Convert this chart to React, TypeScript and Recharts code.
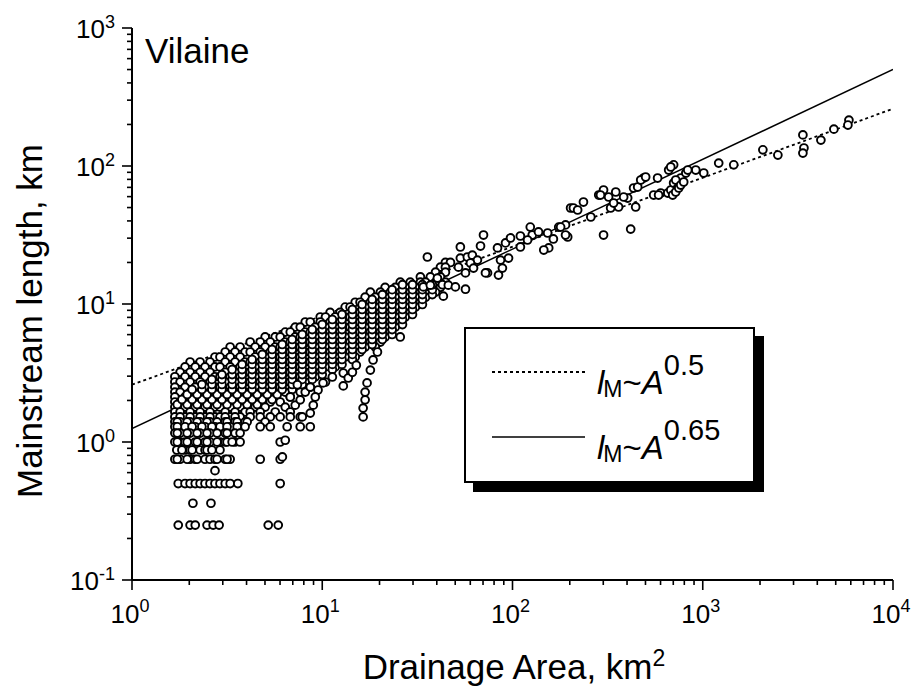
import React from 'react';
import { ScatterChart, Scatter, XAxis, YAxis, Legend, Customized } from 'recharts';

// ---------- axis ticks ----------
const xTicks = [1, 2, 3, 4, 5, 6, 7, 8, 9, 10, 20, 30, 40, 50, 60, 70, 80, 90, 100, 200, 300, 400, 500, 600, 700, 800, 900, 1000, 2000, 3000, 4000, 5000, 6000, 7000, 8000, 9000, 10000];
const yTicks = [0.1, 0.2, 0.3, 0.4, 0.5, 0.6, 0.7, 0.8, 0.9, 1, 2, 3, 4, 5, 6, 7, 8, 9, 10, 20, 30, 40, 50, 60, 70, 80, 90, 100, 200, 300, 400, 500, 600, 700, 800, 900, 1000];

// ---------- data: dense cloud, one row per mainstream length (km) with drainage areas (km2) ----------
const cloudRows: [number, number[]][] = [
  [20.0, [44.4, 47.2]],
  [18.5, [41.8, 44.4]],
  [17.0, [39.4, 44.4]],
  [15.7, [32.8, 37.0, 41.8]],
  [14.4, [25.7, 29.0, 32.8, 34.9, 39.4, 44.4]],
  [13.2, [21.4, 24.2, 27.3, 30.9, 37.0, 41.8]],
  [12.2, [17.9, 20.2, 22.8, 25.7, 29.0, 32.8, 39.4]],
  [11.2, [16.8, 19.0, 21.4, 24.2, 27.3, 30.9, 34.9]],
  [10.3, [14.9, 15.8, 17.9, 20.2, 22.8, 25.7, 29.0, 32.8]],
  [9.5, [13.2, 14.0, 16.8, 19.0, 21.4, 24.2, 27.3, 30.9]],
  [8.7, [11.0, 12.4, 14.9, 15.8, 17.9, 20.2, 22.8, 25.7, 29.0]],
  [8.05, [9.76, 10.4, 11.7, 13.2, 14.0, 16.8, 19.0, 21.4, 24.2, 27.3]],
  [7.4, [8.14, 8.65, 9.76, 11.0, 12.4, 14.9, 15.8, 17.9, 20.2, 22.8, 25.7]],
  [6.8, [7.21, 7.66, 9.19, 10.4, 11.7, 13.2, 14.0, 16.8, 19.0, 21.4, 24.2]],
  [6.26, [6.39, 6.79, 8.14, 8.65, 9.76, 11.0, 12.4, 14.9, 15.8, 17.9, 20.2, 22.8]],
  [5.77, [5.01, 5.66, 6.01, 7.21, 7.66, 9.19, 10.4, 11.7, 13.2, 16.8, 19.0, 21.4, 25.7]],
  [5.3, [4.18, 4.72, 5.33, 6.39, 6.79, 8.14, 8.65, 9.76, 11.0, 12.4, 14.0, 15.8, 17.9, 20.2]],
  [4.88, [3.28, 3.70, 4.44, 5.01, 5.66, 6.01, 7.21, 7.66, 9.19, 10.4, 11.7, 13.2, 14.9, 16.8, 19.0]],
  [4.49, [3.09, 3.48, 3.93, 4.18, 4.72, 5.33, 6.39, 6.79, 8.14, 8.65, 9.76, 11.0, 12.4, 14.0, 15.8]],
  [4.13, [2.73, 2.90, 3.28, 3.70, 4.44, 5.01, 5.66, 6.01, 7.21, 7.66, 9.19, 10.4, 11.7, 13.2, 14.9]],
  [3.8, [2.02, 2.28, 2.57, 3.09, 3.48, 3.93, 4.18, 4.72, 5.33, 6.39, 6.79, 8.14, 8.65, 9.76, 11.0, 12.4]],
  [3.5, [1.90, 2.15, 2.42, 2.73, 2.90, 3.28, 3.70, 4.44, 5.01, 5.66, 6.01, 7.21, 7.66, 9.19, 10.4, 11.7]],
  [3.2, [1.79, 2.02, 2.28, 2.57, 3.09, 3.48, 3.93, 4.18, 4.72, 5.33, 6.39, 6.79, 8.14, 8.65, 9.76]],
  [2.97, [1.68, 1.90, 2.15, 2.42, 2.73, 2.90, 3.28, 3.70, 4.44, 5.01, 5.66, 6.01, 7.21, 7.66, 9.19]],
  [2.72, [1.68, 1.79, 2.02, 2.28, 2.57, 3.09, 3.48, 3.93, 4.18, 4.72, 5.33, 6.39, 6.79, 8.14, 10.4]],
  [2.5, [1.68, 1.90, 2.15, 2.42, 2.73, 2.90, 3.28, 3.70, 4.44, 5.01, 5.66, 6.01, 7.21, 8.65]],
  [2.3, [1.68, 1.79, 2.02, 2.28, 2.57, 3.09, 3.48, 3.93, 4.18, 4.72, 5.33, 6.39, 7.66]],
  [2.12, [1.68, 1.90, 2.15, 2.42, 2.73, 2.90, 3.28, 3.70, 4.44, 5.01, 5.66, 6.79]],
  [1.95, [1.68, 1.79, 2.02, 2.28, 2.57, 3.09, 3.48, 3.93, 4.18, 4.72, 5.33, 6.01]],
  [1.79, [1.68, 1.90, 2.15, 2.42, 2.73, 2.90, 3.28, 3.70, 4.44, 5.01, 6.39]],
  [1.65, [1.68, 1.79, 2.02, 2.28, 2.57, 3.09, 3.48, 3.93, 4.18, 4.72, 5.66, 6.79]],
  [1.52, [1.68, 1.90, 2.15, 2.42, 2.73, 2.90, 3.28, 3.70, 4.18, 4.72, 5.33, 6.01, 6.79, 7.66]],
  [1.52, [1.79, 2.02, 2.28, 2.57, 3.09, 3.48]],
  [1.4, [1.68, 1.79, 2.02, 2.28, 2.57, 3.09, 3.48, 3.93, 5.01]],
  [1.4, [1.73, 1.95, 2.20, 2.48, 2.80, 3.16, 3.57, 4.03]],
  [1.29, [1.68, 1.90, 2.15, 2.42, 2.73, 2.90, 3.28, 3.70, 3.93, 4.72, 5.33, 6.54, 7.66, 8.65]],
  [1.29, [1.73, 2.07, 2.33, 2.63, 3.16, 3.57]],
  [1.16, [1.68, 1.79, 2.02, 2.28, 2.57, 3.09, 3.48, 3.70]],
  [1.16, [1.73, 1.95, 2.20, 2.48, 2.80, 3.16]],
  [1.0, [1.68, 1.79, 1.90, 2.15, 2.42, 2.57, 2.90, 3.09, 3.48, 3.70, 6.01]],
  [1.0, [1.73, 1.95, 2.20, 2.48, 2.80, 3.16, 3.36]],
  [0.875, [1.72, 1.90, 2.02, 2.28, 2.42, 2.90]],
  [0.875, [1.83, 2.07, 2.48, 2.63]],
  [0.75, [1.68, 1.79, 2.02, 2.15, 2.42, 2.57, 2.73, 3.09, 3.28, 4.72, 6.01]],
  [0.75, [1.73, 1.95, 2.20, 2.80, 3.16]],
  [0.62, [2.73]],
  [0.5, [1.75, 1.90, 2.02, 2.15, 2.28, 2.42, 2.57, 2.73, 2.90, 3.09, 3.28, 3.60, 6.01]],
  [0.36, [2.09, 2.60]],
  [0.25, [1.75, 2.02, 2.15, 2.48, 2.67, 2.87, 5.20, 5.87]],
  // core of the cloud (between the rows above)
  [1.87, [1.73, 1.95, 2.20, 2.48, 2.80, 3.16, 3.57, 4.03, 4.55]],
  [2.03, [1.83, 2.07, 2.33, 2.63, 2.97, 3.36, 3.79, 4.28, 4.84, 5.45]],
  [2.21, [1.95, 2.20, 2.48, 2.80, 3.16, 3.57, 4.03, 4.55, 5.14, 5.80]],
  [2.40, [2.07, 2.33, 2.63, 2.97, 3.36, 3.79, 4.28, 4.84, 5.45, 6.16, 6.95]],
  [2.61, [2.33, 2.63, 2.97, 3.36, 3.79, 4.28, 4.84, 5.45, 6.16, 6.95, 7.85]],
  [2.84, [2.63, 2.97, 3.36, 3.79, 4.28, 4.84, 5.45, 6.16, 6.95, 7.85, 8.86]],
  [3.08, [2.97, 3.36, 3.79, 4.28, 4.84, 5.45, 6.16, 6.95, 7.85, 8.86, 10.0]],
  [3.35, [3.36, 3.79, 4.28, 4.84, 5.45, 6.16, 6.95, 7.85, 8.86, 10.0, 11.3]],
  [3.65, [3.79, 4.28, 4.84, 5.45, 6.16, 6.95, 7.85, 8.86, 10.0, 11.3, 12.7]],
  [3.96, [4.28, 4.84, 5.45, 6.16, 6.95, 7.85, 8.86, 10.0, 11.3, 12.7, 14.4]],
  [4.31, [4.84, 5.45, 6.16, 6.95, 7.85, 8.86, 10.0, 11.3, 12.7, 14.4]],
  [4.68, [5.45, 6.16, 6.95, 7.85, 8.86, 10.0, 11.3, 12.7, 14.4, 16.2]],
  [5.09, [6.16, 6.95, 7.85, 8.86, 10.0, 11.3, 12.7, 14.4, 16.2, 18.3]],
  [5.53, [6.95, 7.85, 8.86, 10.0, 11.3, 12.7, 14.4, 16.2, 18.3, 20.7]],
  [6.01, [7.85, 8.86, 10.0, 11.3, 12.7, 14.4, 16.2, 18.3, 20.7, 23.3]],
  [6.53, [8.86, 10.0, 11.3, 12.7, 14.4, 16.2, 18.3, 20.7, 23.3]],
  [7.10, [10.0, 11.3, 12.7, 14.4, 16.2, 18.3, 20.7, 23.3, 26.4]],
  [7.72, [11.3, 12.7, 14.4, 16.2, 18.3, 20.7, 23.3, 26.4]],
  [8.39, [12.7, 14.4, 16.2, 18.3, 20.7, 23.3, 26.4, 29.8]],
  [9.12, [14.4, 16.2, 18.3, 20.7, 23.3, 26.4, 29.8]],
  [9.92, [16.2, 18.3, 20.7, 23.3, 26.4, 29.8, 33.6]],
  [10.8, [18.3, 20.7, 23.3, 26.4, 29.8, 33.6]],
  [11.7, [20.7, 23.3, 26.4, 29.8, 33.6, 37.9]],
  [12.7, [23.3, 26.4, 29.8, 33.6, 37.9]],
  [13.8, [26.4, 29.8, 33.6, 37.9, 42.8]],
];

// descending tails of points below the main cloud [area, length]
const tailPoints: [number, number][] = [
  [19.5, 4.49], [18.5, 3.93], [17.9, 3.32], [17.2, 2.68], [16.8, 2.30], [16.8, 2.02], [16.4, 1.76], [16.4, 1.52],
  [10.1, 2.68], [9.5, 2.38], [9.19, 2.12], [8.97, 1.85], [8.65, 1.62], [7.85, 1.52], [6.39, 1.03], [6.17, 0.78],
  [11.3, 2.96], [12.9, 3.16], [13.7, 2.91], [12.9, 2.55], [14.4, 3.2], [15.1, 3.6],
  [7.21, 1.85], [6.79, 2.12], [7.66, 2.02], [8.14, 2.3], [7.4, 2.6], [8.65, 2.5],
];

// larger basins [area, length]
const upperPoints: [number, number][] = [
  [35.7, 21.9], [52.0, 18.5], [53.2, 21.5], [57.9, 21.9], [61.5, 22.6], [65.4, 20.8], [60.1, 19.8], [62.4, 18.2],
  [56.6, 16.8], [73.9, 16.8], [84.4, 16.2], [86.5, 20.8], [95.3, 21.5], [83.4, 25.5], [67.9, 26.3], [70.4, 31.6],
  [53.2, 25.9], [91.9, 27.7], [97.6, 30.1], [110, 31.1], [110, 25.9], [124, 36.1], [127, 31.6], [120, 29.1],
  [137, 33.3], [153, 32.7], [164, 29.6], [155, 25.5], [146, 24.6], [175, 36.1], [190, 37.4], [195, 30.6],
  [202, 49.6], [34.0, 13.3], [37.0, 13.7], [40.3, 15.4], [46.0, 13.7], [50.1, 13.3], [56.6, 12.8], [43.3, 11.4],
  [88.5, 18.2], [72.1, 16.8], [179, 36.1], [190, 31.6], [209, 49.6], [220, 48.0], [236, 54.8], [258, 42.7],
  [301, 31.6], [418, 34.9], [284, 61.6], [301, 67.0], [320, 59.6], [349, 64.8], [328, 49.6], [361, 50.5],
  [403, 58.6], [433, 69.3], [455, 70.4], [444, 50.5], [489, 81.8], [579, 81.8], [601, 63.7], [655, 63.7],
  [679, 67.0], [703, 75.3], [662, 93.5], [703, 102], [766, 81.8], [815, 88.9], [919, 93.5], [1012, 88.9],
  [1213, 105], [1455, 102], [2070, 131], [2482, 120], [3360, 168], [3403, 135], [3360, 124], [4178, 154],
  [4890, 185], [5866, 215], [5794, 198], [552, 61.6], [586, 61.6], [290, 61.6], [340, 53.9], [384, 59.6],
  [472, 79.2], [501, 83.2], [721, 79.2], [679, 98.4], [834, 93.5], [738, 69.3], [695, 61.6], [721, 64.8],
  [748, 69.3], [766, 72.8], [794, 76.6],
];

// fitted power laws, endpoints read at A = 1 and A = 10^4
const fitHalf: [number, number][] = [[1, 2.6], [10000, 260]];
const fitSixFive: [number, number][] = [[1, 1.25], [10000, 500]];

const points = [
  ...cloudRows.flatMap(([l, areas]) => areas.map((a) => ({ a, l }))),
  ...tailPoints.map(([a, l]) => ({ a, l })),
  ...upperPoints.map(([a, l]) => ({ a, l })),
];
const halfData = fitHalf.map(([a, l]) => ({ a, l }));
const sixFiveData = fitSixFive.map(([a, l]) => ({ a, l }));

const FONT = "'Liberation Sans', Arial, Helvetica, sans-serif";

const isMajor = (v: number) => {
  const e = Math.log10(v);
  return Math.abs(e - Math.round(e)) < 1e-6;
};

function XTick(props: any) {
  const { x, y, payload } = props;
  const v = payload.value;
  const major = isMajor(v);
  return (
    <g>
      <line x1={x} y1={y} x2={x} y2={y + (major ? 10 : 5)} stroke="#000" strokeWidth={1.6} />
      {major && (
        <text x={x - 2} y={y + 43} textAnchor="middle" fontFamily={FONT} fontSize={26} fill="#000">
          10<tspan dy={-11} fontSize={18}>{Math.round(Math.log10(v))}</tspan>
        </text>
      )}
    </g>
  );
}

function YTick(props: any) {
  const { x, y, payload } = props;
  const v = payload.value;
  const major = isMajor(v);
  return (
    <g>
      <line x1={x - (major ? 10 : 5)} y1={y} x2={x} y2={y} stroke="#000" strokeWidth={1.6} />
      {major && (
        <text x={x - 17} y={y + 10} textAnchor="end" fontFamily={FONT} fontSize={26} fill="#000">
          10<tspan dy={-10} fontSize={18}>{Math.round(Math.log10(v))}</tspan>
        </text>
      )}
    </g>
  );
}

function Dot(props: any) {
  const { cx, cy } = props;
  if (cx == null || cy == null) return <g />;
  return <circle cx={cx} cy={cy} r={3.9} fill="#fff" stroke="#000" strokeWidth={1.9} />;
}

function LegendBox() {
  return (
    <svg width={310} height={180} style={{ display: 'block' }}>
      <rect x={13} y={13} width={291} height={156} fill="#000" />
      <rect x={5} y={5} width={289} height={154} fill="#fff" stroke="#000" strokeWidth={2} />
      <line x1={32} y1={49} x2={125} y2={49} stroke="#000" strokeWidth={1.8} strokeDasharray="3 3" />
      <text x={137} y={71} fontFamily={FONT} fontSize={33} fill="#000">
        <tspan fontStyle="italic">l</tspan>
        <tspan fontSize={23} dx={-1} dy={3}>M</tspan>
        <tspan dy={-3}>~</tspan>
        <tspan fontStyle="italic">A</tspan>
        <tspan fontSize={29} dy={-19}>0.5</tspan>
      </text>
      <line x1={32} y1={114} x2={125} y2={114} stroke="#000" strokeWidth={1.5} />
      <text x={137} y={136} fontFamily={FONT} fontSize={33} fill="#000">
        <tspan fontStyle="italic">l</tspan>
        <tspan fontSize={23} dx={-1} dy={3}>M</tspan>
        <tspan dy={-3}>~</tspan>
        <tspan fontStyle="italic">A</tspan>
        <tspan fontSize={29} dy={-19}>0.65</tspan>
      </text>
    </svg>
  );
}

function Annotations() {
  return (
    <g>
      <text x={137} y={55} fontFamily={FONT} fontSize={35} fill="#000">Vilaine</text>
      <text x={34} y={313} transform="rotate(-90 34 313)" textAnchor="middle" fontFamily={FONT} fontSize={35} fill="#000">
        Mainstream length, km
      </text>
      <text x={506} y={671} textAnchor="middle" fontFamily={FONT} fontSize={35} fill="#000">
        Drainage Area, km<tspan dy={-13} fontSize={23}>2</tspan>
      </text>
    </g>
  );
}

export default function App() {
  return (
    <div style={{ width: 905, height: 681, background: '#fff' }}>
      <ScatterChart width={905} height={681} margin={{ top: 20, right: 20, bottom: 0, left: 0 }}>
        <XAxis
          type="number"
          dataKey="a"
          scale="log"
          domain={[1, 10000]}
          allowDataOverflow
          ticks={xTicks}
          interval={0}
          height={109}
          tickSize={0}
          tickMargin={0}
          tickLine={false}
          axisLine={{ stroke: '#000', strokeWidth: 2 }}
          tick={<XTick />}
        />
        <YAxis
          type="number"
          dataKey="l"
          scale="log"
          domain={[0.1, 1000]}
          allowDataOverflow
          ticks={yTicks}
          interval={0}
          width={124}
          tickSize={0}
          tickMargin={0}
          tickLine={false}
          axisLine={{ stroke: '#000', strokeWidth: 2 }}
          tick={<YTick />}
        />
        <Scatter
          name="lM~A^0.5"
          data={halfData}
          line={{ stroke: '#000', strokeWidth: 1.8, strokeDasharray: '3 3' }}
          shape={() => <g />}
          isAnimationActive={false}
        />
        <Scatter
          name="lM~A^0.65"
          data={sixFiveData}
          line={{ stroke: '#000', strokeWidth: 1.5 }}
          shape={() => <g />}
          isAnimationActive={false}
        />
        <Scatter name="basins" data={points} shape={<Dot />} legendType="none" isAnimationActive={false} />
        <Legend
          layout="horizontal"
          verticalAlign="middle"
          align="center"
          wrapperStyle={{ left: 452, top: 315, width: 310, height: 180 }}
          content={() => <LegendBox />}
        />
        <Customized component={Annotations} />
      </ScatterChart>
    </div>
  );
}
